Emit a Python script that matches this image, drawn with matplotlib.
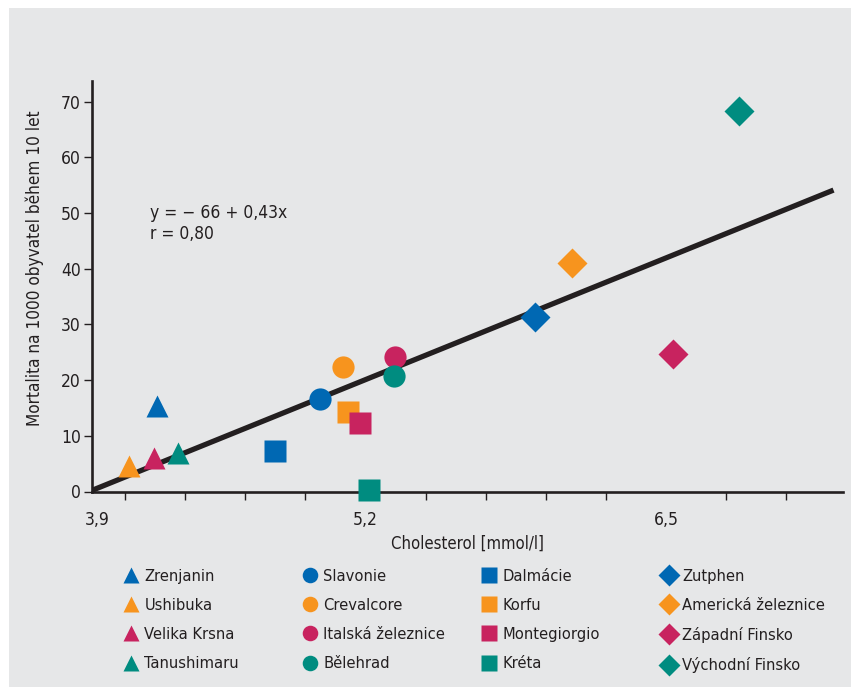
import matplotlib
matplotlib.use("Agg")
import matplotlib.pyplot as plt
from matplotlib.patches import Rectangle
from matplotlib.transforms import ScaledTranslation

plt.rcParams['font.family'] = ['DejaVu Sans']
plt.rcParams['font.stretch'] = 'condensed'

# ---- data (cholesterol mmol/l, mortality per 1000 in 10 years) ----
tri_names = ["Zrenjanin", "Ushibuka", "Velika Krsna", "Tanushimaru"]
tri_x = [4.299, 4.176, 4.284, 4.390]
tri_y = [15.3, 4.6, 6.0, 6.9]

circ_names = ["Slavonie", "Crevalcore", "Italská železnice", "Bělehrad"]
circ_x = [5.003, 5.101, 5.328, 5.322]
circ_y = [16.6, 22.3, 24.1, 20.8]

sq_names = ["Dalmácie", "Korfu", "Montegiorgio", "Kréta"]
sq_x = [4.808, 5.123, 5.175, 5.215]
sq_y = [7.3, 14.3, 12.3, 0.3]

dia_names = ["Zutphen", "Americká železnice", "Západní Finsko", "Východní Finsko"]
dia_x = [5.935, 6.095, 6.529, 6.814]
dia_y = [31.4, 41.0, 24.6, 68.3]

reg_x = [4.017, 7.224]
reg_y = [0.2, 54.1]

y_ticks = [0, 10, 20, 30, 40, 50, 60, 70]
x_major = [4.017, 5.2, 6.5]
x_major_labels = ["3,9", "5,2", "6,5"]
x_minor = [4.16, 4.42, 4.68, 4.94, 5.2, 5.46, 5.72, 5.98, 6.24, 6.5, 6.76, 7.02]

colors = ["#0068b3", "#f7941e", "#c8235f", "#008c80"]
ink = "#231f20"
bg = "#e6e7e8"

fig = plt.figure(figsize=(8.51, 6.87), dpi=100, facecolor="white")
fig.patches.append(Rectangle((9/851, 0), 1 - 9/851, 1 - 8/687,
                             transform=fig.transFigure, facecolor=bg,
                             edgecolor="none", zorder=-10))

W, H = 851, 687
ax_l, ax_r, ax_b, ax_t = 92, 843, 491.5, 81
ax = fig.add_axes([ax_l/W, 1 - ax_b/H, (ax_r-ax_l)/W, (ax_b-ax_t)/H])
ax.set_facecolor("none")
ax.set_xlim(4.017, 7.265)
ax.set_ylim(0, 70 + 20.5/5.571)

ax.plot(reg_x, reg_y, color=ink, lw=3.8, solid_capstyle="butt", zorder=2)

ms = 16
groups = [(tri_names, tri_x, tri_y, "^", ms),
          (circ_names, circ_x, circ_y, "o", ms),
          (sq_names, sq_x, sq_y, "s", ms*1.02),
          (dia_names, dia_x, dia_y, "D", ms*0.97)]
legend_groups = []
for names, xs, ys, mk, size in groups:
    hs = []
    for i, (n, x, y) in enumerate(zip(names, xs, ys)):
        h, = ax.plot([x], [y], marker=mk, ms=size, color=colors[i], mec="none",
                     ls="none", clip_on=False, zorder=3, label=n)
        hs.append(h)
    legend_groups.append(hs)

for s in ["top", "right"]:
    ax.spines[s].set_visible(False)
for s in ["left", "bottom"]:
    ax.spines[s].set_linewidth(1.9)
    ax.spines[s].set_color(ink)

ax.set_yticks(y_ticks)
ax.set_yticklabels([str(v) for v in y_ticks])
ax.tick_params(axis="y", direction="out", length=6, width=1.0, color=ink,
               labelsize=12.5, labelcolor=ink, pad=2)
ax.set_xticks(x_minor, minor=True)
ax.set_xticks(x_major)
ax.set_xticklabels(x_major_labels)
ax.tick_params(axis="x", which="major", length=0, labelsize=12.5,
               labelcolor=ink, pad=14)
ax.tick_params(axis="x", which="minor", direction="out", length=6, width=1.0,
               color=ink)
first = ax.get_xticklabels()[0]
first.set_transform(first.get_transform() + ScaledTranslation(5/100, 0, fig.dpi_scale_trans))

ax.set_xlabel("Cholesterol [mmol/l]", fontsize=12, color=ink, labelpad=4)
ax.set_ylabel("Mortalita na 1000 obyvatel během 10 let", fontsize=12.3,
              color=ink)
ax.yaxis.set_label_coords(-0.064, 0.545)

ax.text(4.27, 50.0, "y = − 66 + 0,43x", fontsize=12.5, color=ink, va="center")
ax.text(4.27, 46.2, "r = 0,80", fontsize=12.5, color=ink, va="center")

col_x = [124, 303, 482, 662]
for cx, hs in zip(col_x, legend_groups):
    fig.legend(handles=hs, loc="upper left",
               bbox_to_anchor=(cx/W, 1 - 569/H), frameon=False,
               fontsize=11.8, markerscale=0.7, handlelength=0.8,
               handletextpad=0.45, labelspacing=0.86, borderpad=0,
               borderaxespad=0, labelcolor=ink)

fig.savefig("out.png", dpi=100, facecolor="white")
